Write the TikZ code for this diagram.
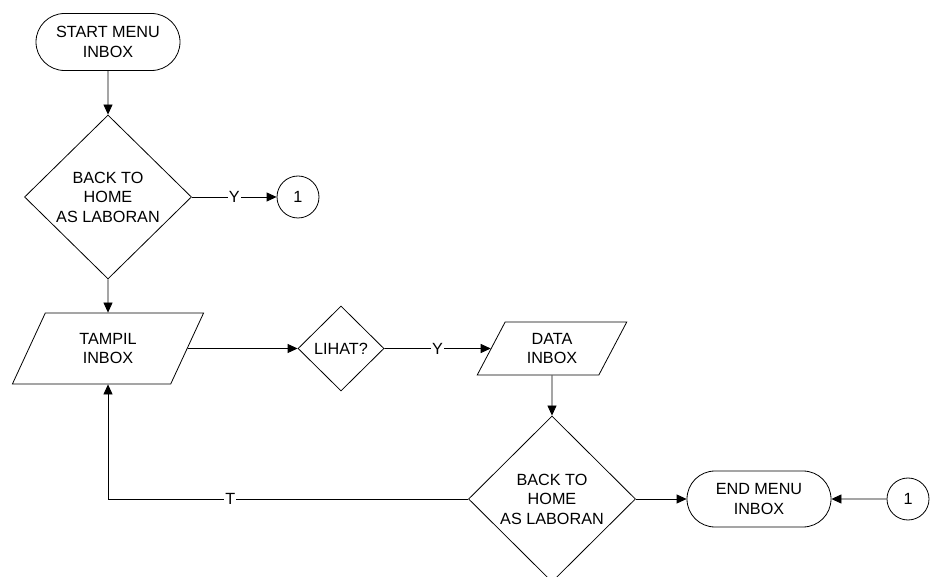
\documentclass[tikz,border=0pt]{standalone}
\usepackage{fontspec}
\setmainfont{Liberation Sans}
\usetikzlibrary{shapes.geometric,shapes.misc,arrows.meta}

\begin{document}
\begin{tikzpicture}[x=1pt,y=-1pt,
   font=\fontsize{16.2}{19.5}\selectfont,
   line width=0.8pt,
   terminal/.style={draw, rounded rectangle, minimum width=144pt, minimum height=57pt, inner sep=0pt, align=center},
   decision/.style={draw, diamond, inner sep=0pt, align=center},
   io/.style={draw, trapezium, trapezium left angle=64, trapezium right angle=116, trapezium stretches=true, inner sep=0pt, align=center},
   connector/.style={draw, circle, minimum size=42pt, inner sep=0pt},
   arr/.style={-{Triangle[length=10pt,width=9pt]}},
   lbl/.style={fill=white, inner sep=1pt}]
   \useasboundingbox (0,0) rectangle (930,577);

   \node[terminal] (start) at (108,42) {START MENU\\INBOX};
   \node[decision, minimum width=167pt, minimum height=164pt] (back1) at (108,197) {BACK TO\\HOME\\AS LABORAN};
   \node[connector] (con1) at (298,197) {1};
   \node[io, minimum width=192pt, minimum height=71pt] (tampil) at (108,348.5) {TAMPIL\\INBOX};
   \node[decision, minimum width=86pt, minimum height=85pt] (lihat) at (341,348.5) {LIHAT?};
   \node[io, minimum width=150pt, minimum height=53pt] (data) at (552,348.5) {DATA\\INBOX};
   \node[decision, minimum width=167pt, minimum height=166pt] (back2) at (552,499) {BACK TO\\HOME\\AS LABORAN};
   \node[terminal, minimum height=56pt] (end) at (759,499) {END MENU\\INBOX};
   \node[connector] (con2) at (908,499) {1};

   \draw[arr] (start) -- (back1);
   \draw[arr] (back1) -- (con1) node[midway,lbl] {Y};
   \draw[arr] (back1) -- (tampil);
   \draw[arr] (tampil) -- (lihat);
   \draw[arr] (lihat) -- (data) node[pos=0.5,lbl] {Y};
   \draw[arr] (data) -- (back2);
   \draw[arr] (back2.west) -| (tampil.south) node[pos=0.33,lbl] {T};
   \draw[arr] (back2) -- (end);
   \draw[arr] (con2) -- (end);
\end{tikzpicture}
\end{document}
